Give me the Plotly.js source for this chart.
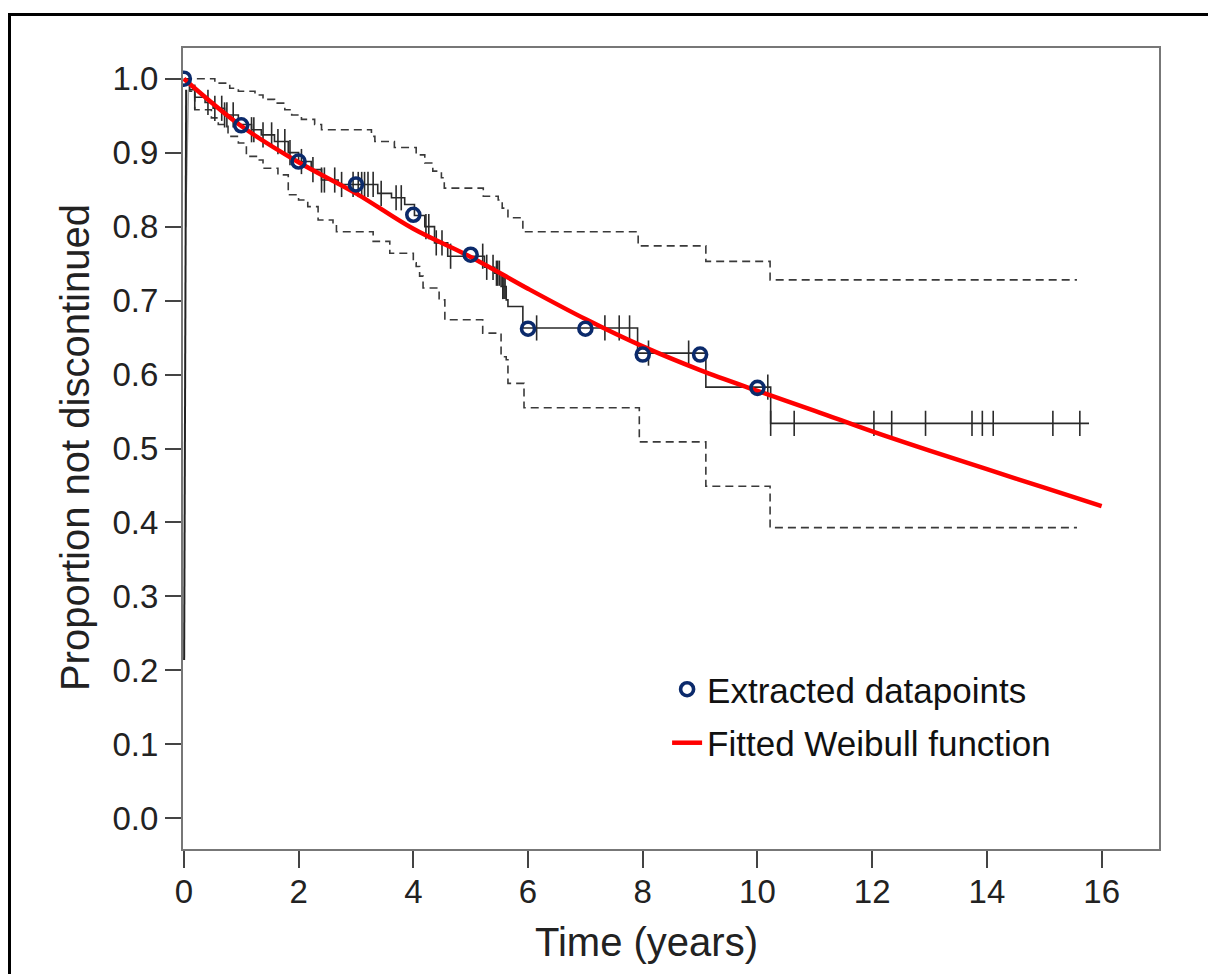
<!DOCTYPE html>
<html>
<head>
<meta charset="utf-8">
<script src="https://cdn.plot.ly/plotly-3.0.1.min.js"></script>
<style>
  html, body { margin: 0; padding: 0; background: #fff; overflow: hidden; }
  #wrap { position: relative; width: 1208px; height: 974px; overflow: hidden; }
  #chart { width: 1208px; height: 974px; }
  #frame { position: absolute; left: 8px; top: 13px; width: 1300px; height: 1000px;
           border-left: 3px solid #000; border-top: 3px solid #000; pointer-events: none; }
</style>
</head>
<body>
<div id="wrap"><div id="chart"></div><div id="frame"></div></div>
<script>
// Kaplan-Meier estimate (event times, survival after the step)
const kmTime = [0, 0.10, 0.19, 0.37, 0.51, 0.71, 0.95, 1.18, 1.35, 1.58, 1.82, 2.00, 2.22, 2.40, 2.69, 3.38, 3.62, 3.85, 4.02, 4.20, 4.37, 4.60, 5.24, 5.42, 5.53, 5.62, 5.65, 5.91, 7.91, 9.10, 10.23, 15.78];
const kmSurv = [1.000, 0.985, 0.975, 0.968, 0.960, 0.951, 0.938, 0.931, 0.924, 0.915, 0.900, 0.888, 0.877, 0.863, 0.857, 0.845, 0.839, 0.830, 0.815, 0.800, 0.778, 0.760, 0.745, 0.737, 0.719, 0.701, 0.692, 0.663, 0.629, 0.583, 0.534, 0.534];

// Censoring marks
const censTime = [0.19, 0.42, 0.54, 0.66, 0.71, 0.75, 0.86, 1.18, 1.22, 1.38, 1.53, 1.64, 1.76, 1.85, 2.05, 2.25, 2.40, 2.45, 2.63, 2.75, 2.95, 3.04, 3.10, 3.15, 3.21, 3.30, 3.44, 3.70, 3.79, 4.22, 4.27, 4.40, 4.50, 4.65, 5.21, 5.28, 5.39, 5.45, 5.47, 5.50, 5.56, 5.58, 5.60, 6.15, 7.34, 7.59, 7.77, 8.10, 8.80, 10.18, 10.23, 10.64, 12.03, 12.34, 12.93, 13.74, 13.92, 14.11, 15.15, 15.62];
const censSurv = [0.975, 0.968, 0.960, 0.960, 0.951, 0.951, 0.951, 0.931, 0.931, 0.924, 0.924, 0.915, 0.915, 0.900, 0.888, 0.877, 0.863, 0.863, 0.863, 0.857, 0.857, 0.857, 0.857, 0.857, 0.857, 0.857, 0.845, 0.839, 0.839, 0.800, 0.800, 0.778, 0.778, 0.760, 0.760, 0.745, 0.745, 0.737, 0.737, 0.737, 0.719, 0.719, 0.719, 0.663, 0.663, 0.663, 0.663, 0.629, 0.629, 0.583, 0.534, 0.534, 0.534, 0.534, 0.534, 0.534, 0.534, 0.534, 0.534, 0.534];

// Confidence limits
const upTime = [0, 0.54, 0.80, 0.95, 1.24, 1.38, 1.58, 1.76, 1.88, 2.05, 2.28, 2.40, 3.27, 3.33, 3.67, 4.05, 4.20, 4.34, 4.49, 4.54, 5.22, 5.48, 5.55, 5.65, 5.91, 7.92, 9.10, 10.22, 15.57];
const upSurv = [1.000, 0.994, 0.987, 0.983, 0.978, 0.972, 0.967, 0.958, 0.951, 0.945, 0.938, 0.931, 0.922, 0.915, 0.907, 0.897, 0.886, 0.875, 0.866, 0.852, 0.841, 0.836, 0.825, 0.812, 0.793, 0.774, 0.753, 0.728, 0.728];
const loTime = [0, 0.10, 0.19, 0.48, 0.60, 0.77, 0.95, 1.09, 1.29, 1.38, 1.64, 1.82, 2.00, 2.16, 2.34, 2.60, 2.66, 3.30, 3.59, 4.00, 4.05, 4.11, 4.17, 4.45, 4.55, 5.21, 5.53, 5.62, 5.65, 5.93, 7.94, 9.10, 10.22, 15.57];
const loSurv = [1.000, 0.983, 0.958, 0.947, 0.938, 0.922, 0.913, 0.895, 0.890, 0.879, 0.870, 0.843, 0.836, 0.827, 0.809, 0.803, 0.793, 0.780, 0.764, 0.751, 0.746, 0.733, 0.717, 0.701, 0.674, 0.656, 0.624, 0.620, 0.588, 0.555, 0.509, 0.449, 0.393, 0.393];

// Near-vertical strokes at the origin
const startDarkTime = [0.005, 0.04];
const startDarkSurv = [0.214, 0.985];
const startGreyTime = [0.03, 0.08];
const startGreySurv = [0.80, 0.985];

// Extracted datapoints
const ptYear = [0, 1, 2, 3, 4, 5, 6, 7, 8, 9, 10];
const ptSurv = [1.000, 0.937, 0.888, 0.857, 0.816, 0.762, 0.662, 0.662, 0.627, 0.627, 0.582];

// Fitted Weibull curve, read at each year
const wbYear = [0, 1, 2, 3, 4, 5, 6, 7, 8, 9, 10, 11, 12, 13, 14, 15, 16];
const wbSurv = [1.000, 0.936, 0.887, 0.845, 0.797, 0.759, 0.716, 0.675, 0.638, 0.606, 0.578, 0.551, 0.523, 0.497, 0.472, 0.447, 0.422];

const xTicks = [0, 2, 4, 6, 8, 10, 12, 14, 16];
const yTicks = [0, 0.1, 0.2, 0.3, 0.4, 0.5, 0.6, 0.7, 0.8, 0.9, 1.0];

const FONT = 'Arial, "Liberation Sans", sans-serif';
const NAVY = '#0b2a6b';
const dashStyle = {color: '#3a3a3a', width: 1.6, dash: '8px,5px', shape: 'hv'};

const traces = [
  {x: upTime, y: upSurv, type: 'scatter', mode: 'lines', line: dashStyle, showlegend: false, hoverinfo: 'skip'},
  {x: loTime, y: loSurv, type: 'scatter', mode: 'lines', line: dashStyle, showlegend: false, hoverinfo: 'skip'},
  {x: startGreyTime, y: startGreySurv, type: 'scatter', mode: 'lines', line: {color: '#9a9a9a', width: 1.5}, showlegend: false, hoverinfo: 'skip'},
  {x: startDarkTime, y: startDarkSurv, type: 'scatter', mode: 'lines', line: {color: '#222', width: 2}, showlegend: false, hoverinfo: 'skip'},
  {x: kmTime, y: kmSurv, type: 'scatter', mode: 'lines', line: {color: '#2a2a2a', width: 1.6, shape: 'hv'}, showlegend: false, hoverinfo: 'skip'},
  {x: censTime, y: censSurv, type: 'scatter', mode: 'markers', marker: {symbol: 'line-ns', size: 18, color: '#2a2a2a', line: {color: '#2a2a2a', width: 1.6}}, showlegend: false, hoverinfo: 'skip'},
  {x: wbYear, y: wbSurv, type: 'scatter', mode: 'lines', name: 'Fitted Weibull function', legendgroup: 'b', legendrank: 2,
   line: {color: '#ff0000', width: 4.5, shape: 'spline', smoothing: 1}},
  {x: ptYear, y: ptSurv, type: 'scatter', mode: 'markers', name: 'Extracted datapoints', legendgroup: 'a', legendrank: 1,
   marker: {symbol: 'circle-open', size: 13, color: NAVY, line: {color: NAVY, width: 3.6}}}
];

const layout = {
  width: 1208, height: 974,
  margin: {l: 183, r: 49, t: 48, b: 125},
  paper_bgcolor: '#fff', plot_bgcolor: '#fff',
  font: {family: FONT, color: '#222', size: 33},
  showlegend: true,
  legend: {x: 0.496, y: 0.236, xanchor: 'left', yanchor: 'top', bgcolor: 'rgba(0,0,0,0)',
           font: {family: FONT, size: 35, color: '#111'}, traceorder: 'grouped', tracegroupgap: 5},
  xaxis: {range: [-0.015, 17], tickvals: xTicks, ticktext: xTicks.map(String), ticks: 'outside', ticklen: 17, tickwidth: 2,
          tickcolor: '#444', showgrid: false, zeroline: false, showline: true, linecolor: '#777', linewidth: 2, mirror: true,
          ticklabelstandoff: -5,
          tickfont: {family: FONT, size: 33, color: '#222'}},
  yaxis: {range: [-0.0415, 1.0415], tickvals: yTicks, tickformat: '.1f', ticks: 'outside', ticklen: 16, tickwidth: 2,
          tickcolor: '#444', showgrid: false, zeroline: false, showline: true, linecolor: '#777', linewidth: 2, mirror: true,
          tickfont: {family: FONT, size: 33, color: '#222'}},
  annotations: [
    {text: 'Time (years)', xref: 'paper', yref: 'paper', x: 0.475, y: -0.116, xanchor: 'center', yanchor: 'middle',
     showarrow: false, font: {family: FONT, size: 40, color: '#222'}},
    {text: 'Proportion not discontinued', xref: 'paper', yref: 'paper', x: -0.1106, y: 0.5006, xanchor: 'center', yanchor: 'middle',
     textangle: -90, showarrow: false, font: {family: FONT, size: 40, color: '#222'}}
  ]
};

Plotly.newPlot('chart', traces, layout, {displayModeBar: false, staticPlot: true});
</script>
</body>
</html>
